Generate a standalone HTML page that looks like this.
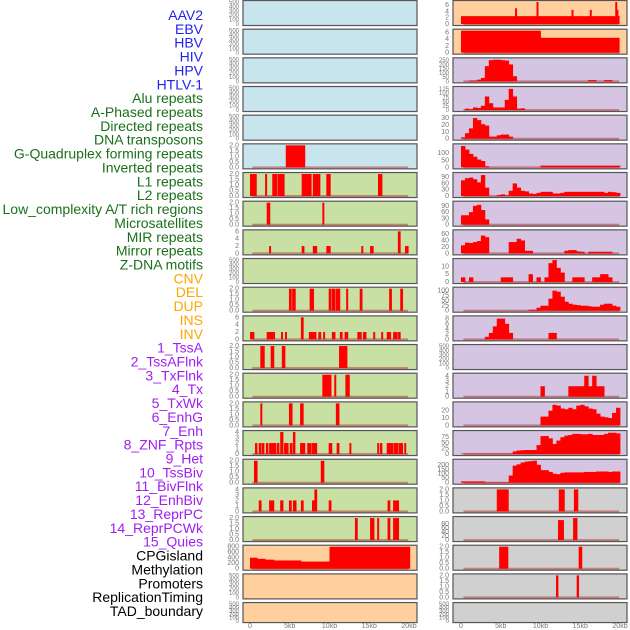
<!DOCTYPE html>
<html><head><meta charset="utf-8"><style>
html,body{margin:0;padding:0;background:#fff;}
svg{display:block;font-family:"Liberation Sans",sans-serif;}
</style></head><body>
<svg id="chart" width="630" height="630" viewBox="0 0 630 630" xmlns="http://www.w3.org/2000/svg"></svg>
<script>
// ---- labels ----
const labelNames = ["AAV2","EBV","HBV","HIV","HPV","HTLV-1","Alu repeats","A-Phased repeats","Directed repeats","DNA transposons","G-Quadruplex forming repeats","Inverted repeats","L1 repeats","L2 repeats","Low_complexity A/T rich regions","Microsatellites","MIR repeats","Mirror repeats","Z-DNA motifs","CNV","DEL","DUP","INS","INV","1_TssA","2_TssAFlnk","3_TxFlnk","4_Tx","5_TxWk","6_EnhG","7_Enh","8_ZNF_Rpts","9_Het","10_TssBiv","11_BivFlnk","12_EnhBiv","13_ReprPC","14_ReprPCWk","15_Quies","CPGisland","Methylation","Promoters","ReplicationTiming","TAD_boundary"];
const labelGroups = [6,13,5,15,5];
const groupColors = ["#2222ee","#1a701a","#ffa500","#a020f0","#000000"];
// ---- x axis ----
const xTickVals = [0,5,10,15,20];
const xTickLabels = ["0","5kb","10kb","15kb","20kb"];
// ---- tick sets ----
const T500 = [0,100,200,300,400,500];
const T2 = [0,0.5,1,1.5,2];
const T6 = [0,2,4,6];
const T4 = [0,1,2,3,4];
// ---- left column data (segments: start kb, end kb, value) ----
const L5_segs = [[4.5,6.9,2]];
const L6_segs = [[0,0.8,2],[1.9,2.1,2],[2.8,3.4,2],[3.5,4.3,2],[6.5,7.7,2],[7.9,8.8,2],[9.6,10.1,2],[16.1,16.6,2]];
const L7_segs = [[2.1,2.5,2],[9.1,9.3,2]];
const L8_segs = [[2.4,2.6,2],[6.5,6.8,2],[7.9,8.4,2],[9.6,10.1,2],[14.0,14.2,2],[15.1,15.5,2],[18.6,18.9,6],[19.5,19.9,2]];
const L10_segs = [[4.9,5.2,2],[5.3,5.7,2],[7.5,8.0,2],[9.9,10.2,2],[10.3,10.7,2],[10.8,11.3,2],[12.1,12.3,2],[13.8,14.1,2],[17.5,17.8,2],[18.9,19.2,2]];
const L11_segs = [[0,0.5,2],[2.1,3.1,2],[3.9,4.1,2],[4.4,4.6,2],[6.4,6.7,6],[7.4,8.3,2],[8.6,8.9,2],[9.2,9.4,2],[10.3,10.7,2],[11.3,11.6,2],[11.9,12.3,2],[13.5,14.0,2],[14.2,14.6,2],[15.5,15.7,2],[16.5,16.7,2],[17.2,17.7,2],[18.0,18.5,2],[18.6,18.9,2]];
const L12_segs = [[1.3,1.8,2],[2.6,3.0,2],[4.0,4.4,2],[11.2,12.2,2]];
const L13_segs = [[9.1,10.2,2],[10.6,10.8,2],[12.0,12.5,2]];
const L14_segs = [[1.3,1.5,2],[4.9,5.3,2],[6.3,6.7,2],[10.8,11.2,2]];
const L15_segs = [[0.63,0.88,2],[1.1,1.4,2],[1.5,1.76,2],[2.0,2.26,2],[2.4,3.27,2],[3.4,3.65,2],[3.8,4.15,4],[4.28,4.8,2],[5.0,5.3,2],[5.4,5.66,4],[6.3,6.9,2],[7.2,7.7,2],[7.8,8.4,2],[9.9,10.3,2],[10.9,11.2,2],[12.5,12.7,2],[16.0,16.2,2],[16.35,16.6,2],[17.2,18.0,2],[18.1,18.6,2],[18.7,19.2,2],[19.4,19.6,2]];
const L16_segs = [[0.5,0.9,2],[8.9,9.3,2]];
const L17_segs = [[1.1,1.4,2],[2.4,3.0,2],[3.8,4.15,2],[4.9,5.2,2],[5.4,5.8,2],[6.4,6.7,2],[7.8,8.1,2],[8.1,8.4,4],[9.9,10.2,2],[17.3,17.6,2],[18.0,18.7,2]];
const L18_segs = [[13.2,13.5,2],[15.1,15.6,2],[16.0,16.2,2],[17.3,17.6,2],[18.0,18.7,2]];
const L19_segs = [[0,0.9,400],[0.9,1.9,360],[1.9,3,330],[3,6.4,300],[6.4,10,260],[10,20.1,800]];
// ---- right column data ----
const R0_segs = [[0,19.9,2.5],[6.8,7.0,5],[9.5,9.7,7],[13.9,14.1,4.5],[16.2,16.4,4.5],[19.4,19.6,7],[19.6,19.75,4.5]];
const R1_segs = [[0,10,6.5],[10,19.9,4.4]];
const R2_bins = [0,0,10,10,20,40,180,250,255,255,250,245,200,60,0,0,0,0,0,0,0,0,0,0,0,0,0,0,0,0,0,0,15,15,0,0,15,15];
const R3_bins = [0,8,5,15,12,25,80,40,15,15,15,60,125,80,8,10];
const R4_bins = [2,8,15,30,27,21,19,3,3,5,6,6,3];
const R5_bins = [150,125,95,75,55,45,8,0,0,0,0,0,0,0,0,0,0,0,0,0,12,12,12,12,12,12,12,12,12,12,12,12,12,12,12,12,12,12,12,12];
const R6_bins = [75,85,88,80,65,100,40,0,0,5,8,3,25,60,40,25,22,12,10,15,20,20,20,12,12,15,20,20,20,20,20,20,20,20,20,20,15,20,18,15];
const R7_bins = [45,45,60,90,95,70,25];
const R8_bins = [25,33,32,35,38,55,50,0,0,0,0,0,35,35,45,40,8,8,0,0,0,0,0,0,0,0,8,10,10,6,5,0,5,5,5,5,5,5];
const R9_bins = [3,0,3,0,0,0,0,0,0,0,3,3,3,0,0,0,0,5,0,3,0,3,12,14,9,6,0,0,3,3,3,0,0,3,3,5,5,3];
const R10_bins = [0,0,0,0,0,0,0,0,0,0,0,0,0,0,0,0,0,5,5,15,25,25,60,100,95,70,45,35,30,28,25,25,22,20,20,30,35,35,25,20];
const R11_bins = [0,0,0,0,0,0,1,2.5,5,8,8,6,2.5,0,0,0,0,0,0,0,0,0,2.5,2.5];
const R13_bins = [0,0,0,0,0,0,0,0,0,0,0,0,0,0,0,0,0,0,0,0,2,0,0,0,0,0,0,2,2,2,2,4,2,4,2,2];
const R14_bins = [0,0,0,0,0,0,0,0,0,0,0,0,0,0,0,0,0,0,0,0,12,12,20,28,27,23,22,24,22,27,28,26,23,22,16,12,11,10,17,24];
const R15_bins = [2,2,2,2,2,2,2,2,2,2,2,2,2,12,16,17,18,18,18,40,80,80,70,45,60,75,82,85,90,90,88,88,90,85,85,85,90,95,95,92];
const R16_bins = [15,15,15,15,15,15,5,5,5,5,5,5,80,190,205,225,235,240,245,200,140,140,120,100,95,110,115,115,115,115,115,120,120,120,125,125,125,120,125,125];
const R17_segs = [[4.5,5.95,2],[12.3,13.0,2],[14.2,14.7,2]];
const R18_segs = [[12.2,12.9,98],[14.1,14.6,108]];
const R19_segs = [[4.8,5.9,2],[14.8,15.2,2]];
const R20_segs = [[11.95,12.2,2],[14.55,14.8,2]];

const BG = {blue:"#c8e4ec",green:"#c8e0a4",orange:"#ffcf9e",purple:"#d5c5e2",gray:"#d0d0d0"};
function binsToSegs(b){const s=[];b.forEach((v,i)=>{if(v>0)s.push([i*0.5,(i+1)*0.5,v]);});return s;}

const leftTracks = [
 {bg:"blue",ymax:500,ticks:T500,segs:[]},{bg:"blue",ymax:500,ticks:T500,segs:[]},{bg:"blue",ymax:500,ticks:T500,segs:[]},
 {bg:"blue",ymax:500,ticks:T500,segs:[]},{bg:"blue",ymax:500,ticks:T500,segs:[]},{bg:"blue",ymax:2,ticks:T2,segs:L5_segs},
 {bg:"green",ymax:2,ticks:T2,segs:L6_segs},{bg:"green",ymax:2,ticks:T2,segs:L7_segs},{bg:"green",ymax:6,ticks:T6,segs:L8_segs},
 {bg:"green",ymax:500,ticks:T500,segs:[]},{bg:"green",ymax:2,ticks:T2,segs:L10_segs},{bg:"green",ymax:6,ticks:T6,segs:L11_segs},
 {bg:"green",ymax:2,ticks:T2,segs:L12_segs},{bg:"green",ymax:2,ticks:T2,segs:L13_segs},{bg:"green",ymax:2,ticks:T2,segs:L14_segs},
 {bg:"green",ymax:4,ticks:T4,segs:L15_segs},{bg:"green",ymax:2,ticks:T2,segs:L16_segs},{bg:"green",ymax:4,ticks:T4,segs:L17_segs},
 {bg:"green",ymax:2,ticks:T2,segs:L18_segs},{bg:"orange",ymax:800,ticks:[0,200,400,600,800],segs:L19_segs},
 {bg:"orange",ymax:500,ticks:T500,segs:[]},{bg:"orange",ymax:500,ticks:T500,segs:[]}
];
const rightTracks = [
 {bg:"orange",ymax:7,ticks:T6,segs:R0_segs},{bg:"orange",ymax:6.5,ticks:T6,segs:R1_segs},
 {bg:"purple",ymax:260,ticks:[0,50,100,150,200,250],segs:binsToSegs(R2_bins)},
 {bg:"purple",ymax:130,ticks:[0,25,50,75,100,125],segs:binsToSegs(R3_bins)},
 {bg:"purple",ymax:32,ticks:[0,10,20,30],segs:binsToSegs(R4_bins)},
 {bg:"purple",ymax:155,ticks:[0,50,100],segs:binsToSegs(R5_bins)},
 {bg:"purple",ymax:105,ticks:[0,30,60,90],segs:binsToSegs(R6_bins)},
 {bg:"purple",ymax:105,ticks:[0,30,60,90],segs:binsToSegs(R7_bins)},
 {bg:"purple",ymax:68,ticks:[0,20,40,60],segs:binsToSegs(R8_bins)},
 {bg:"purple",ymax:14,ticks:[0,5,10],segs:binsToSegs(R9_bins)},
 {bg:"purple",ymax:110,ticks:[0,25,50,75,100],segs:binsToSegs(R10_bins)},
 {bg:"purple",ymax:8.5,ticks:[0,2,4,6,8],segs:binsToSegs(R11_bins)},
 {bg:"purple",ymax:500,ticks:T500,segs:[]},
 {bg:"purple",ymax:4.2,ticks:T4,segs:binsToSegs(R13_bins)},
 {bg:"purple",ymax:30,ticks:[0,10,20],segs:binsToSegs(R14_bins)},
 {bg:"purple",ymax:98,ticks:[0,25,50,75],segs:binsToSegs(R15_bins)},
 {bg:"purple",ymax:245,ticks:[0,50,100,150,200],segs:binsToSegs(R16_bins)},
 {bg:"gray",ymax:2,ticks:T2,segs:R17_segs},{bg:"gray",ymax:108,ticks:[0,20,40,60,80],segs:R18_segs},
 {bg:"gray",ymax:2,ticks:T2,segs:R19_segs},{bg:"gray",ymax:2,ticks:T2,segs:R20_segs},
 {bg:"gray",ymax:500,ticks:T500,segs:[]}
];

const svg = document.getElementById("chart");
const NS = "http://www.w3.org/2000/svg";
function mk(tag, attrs, parent){const e=document.createElementNS(NS,tag);for(const k in attrs)e.setAttribute(k,attrs[k]);(parent||svg).appendChild(e);return e;}

// labels
let li=0;
labelGroups.forEach((n,g)=>{for(let k=0;k<n;k++){
  const t=mk("text",{x:203,y:(15+13.86*li+5).toFixed(1),"text-anchor":"end","font-size":"14",fill:groupColors[g]});
  t.textContent=labelNames[li];
  
  
  li++;}});

const PITCH = 28.67;
function rowTop(i){return i*PITCH+0.5;}
function rowH(i){return i===21?20:25;}

function drawColumn(tracks, x0, xzero, side){
  const W=174, kbPx=7.95;
  const xs = kb => xzero + kb*kbPx;
  tracks.forEach((tr,i)=>{
    const top=rowTop(i), h=rowH(i), bot=top+h;
    const g=mk("g",{});
    
    
    const ys = v => bot-1.5-(v/tr.ymax)*(h-3);
    const bg=mk("rect",{x:x0,y:top,width:W,height:h,fill:BG[tr.bg],stroke:"#555","stroke-width":"1.2"},g);
    
    
    const is2 = tr.ticks===T2;
    tr.ticks.forEach(tv=>{
      const t=mk("text",{x:x0-4,y:(ys(tv)+2).toFixed(1),"text-anchor":"end","font-size":tr.ticks.length>5?"6":"7",fill:"#777"},g);
      t.textContent = is2 ? tv.toFixed(1) : String(tv);
      
      
    });
    if(tr.segs.length){
      const bl=mk("rect",{x:xs(0.3),y:ys(0)-1,width:xs(19.9)-xs(0.3),height:2,fill:"rgba(170,30,30,0.45)"},g);
      
      
    }
    tr.segs.forEach(s=>{
      const y1=Math.max(ys(s[2]),top+0.5);
      const r=mk("rect",{x:xs(s[0]).toFixed(2),y:y1.toFixed(2),width:(Math.max(1.2,xs(s[1])-xs(s[0]))+0.4).toFixed(2),height:(ys(0)-y1).toFixed(2),fill:"#ff0000"},g);
      
      
    });
  });
  xTickVals.forEach((v,k)=>{
    const t=mk("text",{x:xs(v),y:628,"text-anchor":"middle","font-size":"7",fill:"#777"});
    t.textContent=xTickLabels[k];
    
    
  });
}
drawColumn(leftTracks,243,250,'left');
drawColumn(rightTracks,453,461,'right');
</script>
</body></html>
